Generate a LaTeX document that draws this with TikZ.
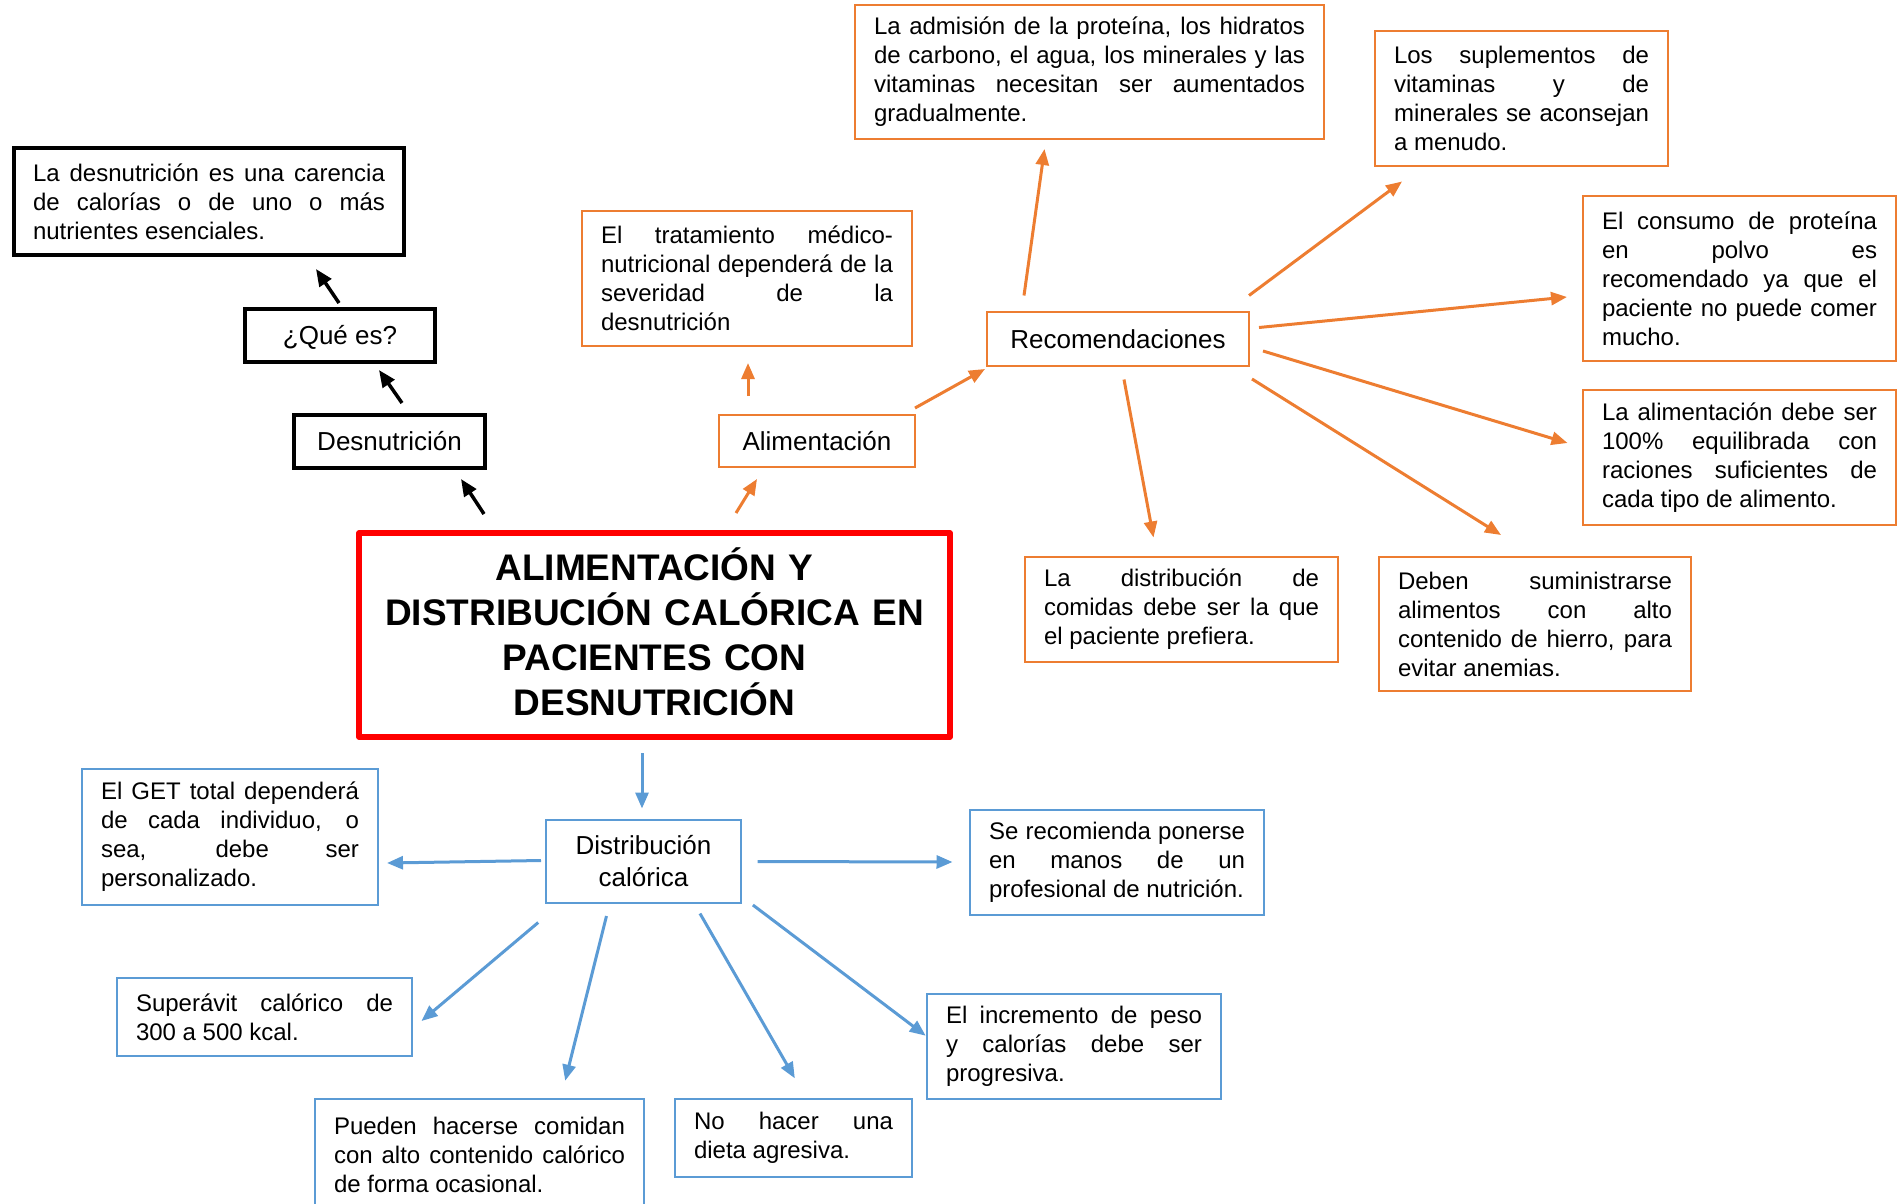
\documentclass[tikz,border=0pt]{standalone}
\usepackage{fontspec}
\setmainfont{Liberation Sans}
\usetikzlibrary{arrows.meta}
\definecolor{orng}{RGB}{237,125,49}
\definecolor{blu}{RGB}{91,155,213}
\definecolor{redb}{RGB}{255,0,0}
\tolerance=10000 \hbadness=10000 \hyphenpenalty=10000 \exhyphenpenalty=10000
\setlength{\parindent}{0pt}
\newcommand\lstrut{\rule[-6pt]{0pt}{30pt}}
\begin{document}
\begin{tikzpicture}[x=1pt,y=-1pt,
  txt/.style={draw, inner xsep=19pt, inner ysep=0pt, align=justify, text=black,
    font=\fontsize{24}{29}\selectfont},
  lbl/.style={draw, inner sep=0pt, align=center, text=black,
    font=\fontsize{26}{32}\selectfont},
  kbox/.style={draw=black, line width=4pt},
  obox/.style={draw=orng, line width=2.8pt},
  bbox/.style={draw=blu, line width=2.8pt},
  karr/.style={line width=3.5pt, black, -{Triangle[length=17pt,width=14pt]}},
  oarr/.style={line width=3pt, orng, -{Triangle[length=16pt,width=13pt]}},
  barr/.style={line width=3pt, blu, -{Triangle[length=16pt,width=13pt]}}
]
\useasboundingbox (0,0) rectangle (1898,1203);

% black branch
\node[txt, kbox, text width=352pt, minimum height=107pt] (qdef) at (209,201.5)
  {La desnutrición es una carencia\linebreak de calorías o de uno o más\linebreak nutrientes esenciales.};
\node[lbl, kbox, minimum width=190pt, minimum height=53pt] (que) at (340,335.5) {\lstrut¿Qué es?};
\node[lbl, kbox, minimum width=191pt, minimum height=53pt] (desn) at (389.5,441.5) {\lstrut Desnutrición};

% title
\node[draw=redb, line width=5.5pt, line join=round, minimum width=591pt, minimum height=204pt,
  inner sep=0pt, text width=570pt, align=center,
  font=\bfseries\fontsize{37}{45}\selectfont] (title) at (654.5,635)
  {ALIMENTACIÓN Y\\DISTRIBUCIÓN CALÓRICA EN\\PACIENTES CON\\DESNUTRICIÓN\rule[-7pt]{0pt}{7pt}};

% orange branch
\node[lbl, obox, minimum width=196pt, minimum height=52pt] (alim) at (817,441) {\lstrut Alimentación};
\node[txt, obox, text width=292pt, minimum height=135pt] (trat) at (747,278.5)
  {El tratamiento médico-\linebreak nutricional dependerá de la\linebreak severidad de la\linebreak desnutrición};
\node[txt, obox, text width=431pt, minimum height=134pt] (adm) at (1089.5,72)
  {La admisión de la proteína, los hidratos\linebreak de carbono, el agua, los minerales y las\linebreak vitaminas necesitan ser aumentados\linebreak gradualmente.};
\node[lbl, obox, minimum width=262pt, minimum height=54pt] (rec) at (1118,339) {\lstrut Recomendaciones};
\node[txt, obox, text width=255pt, minimum height=135pt] (supl) at (1521.5,98.5)
  {Los suplementos de\linebreak vitaminas y de\linebreak minerales se aconsejan\linebreak a menudo.};
\node[txt, obox, text width=275pt, minimum height=165pt] (cons) at (1739.5,278.5)
  {El consumo de proteína\linebreak en polvo es\linebreak recomendado ya que el\linebreak paciente no puede comer\linebreak mucho.};
\node[txt, obox, text width=275pt, minimum height=135pt] (ealim) at (1739.5,457.5)
  {La alimentación debe ser\linebreak 100\% equilibrada con\linebreak raciones suficientes de\linebreak cada tipo de alimento.};
\node[txt, obox, text width=274pt, minimum height=134pt] (deben) at (1535,624)
  {Deben suministrarse\linebreak alimentos con alto\linebreak contenido de hierro, para\linebreak evitar anemias.};
\node[txt, obox, text width=275pt, minimum height=105pt] (dcom) at (1181.5,609.5)
  {La distribución de\linebreak comidas debe ser la que\linebreak el paciente prefiera.};

% blue branch
\node[lbl, bbox, minimum width=195pt, minimum height=83pt] (dist) at (643.5,861.5)
  {\lstrut Distribución\\\lstrut calórica};
\node[txt, bbox, text width=258pt, minimum height=136pt] (get) at (230,837)
  {El GET total dependerá\linebreak de cada individuo, o\linebreak sea, debe ser\linebreak personalizado.};
\node[txt, bbox, text width=256pt, minimum height=105pt] (serec) at (1117,862.5)
  {Se recomienda ponerse\linebreak en manos de un\linebreak profesional de nutrición.};
\node[txt, bbox, text width=257pt, minimum height=78pt] (superav) at (264.5,1017)
  {Superávit calórico de\linebreak 300 a 500 kcal.};
\node[txt, bbox, text width=256pt, minimum height=105pt] (incr) at (1074,1046.5)
  {El incremento de peso\linebreak y calorías debe ser\linebreak progresiva.};
\node[txt, bbox, text width=291pt, minimum height=112pt] (pued) at (479.5,1155)
  {Pueden hacerse comidan\linebreak con alto contenido calórico\linebreak de forma ocasional.};
\node[txt, bbox, text width=199pt, minimum height=78pt] (nohac) at (793.5,1138)
  {No hacer una\linebreak dieta agresiva.};

% black arrows
\draw[karr] ([shift={(-170.5,-121)}]title.center) -- ([shift={(71.5,37.5)}]desn.center);
\draw[karr] ([shift={(12.5,-38.5)}]desn.center) -- ([shift={(39,34.5)}]que.center);
\draw[karr] ([shift={(-1,-32.5)}]que.center) -- ([shift={(107,67.5)}]qdef.center);

% orange arrows
\draw[oarr] ([shift={(81.5,-122)}]title.center) -- ([shift={(-60,38)}]alim.center);
\draw[oarr] ([shift={(-69,-45)}]alim.center) -- ([shift={(1,84.5)}]trat.center);
\draw[oarr] ([shift={(98,-33)}]alim.center) -- ([shift={(-133,30)}]rec.center);
\draw[oarr] ([shift={(-94,-43.5)}]rec.center) -- ([shift={(-45,77)}]adm.center);
\draw[oarr] ([shift={(131,-43.5)}]rec.center) -- ([shift={(-119.5,83)}]supl.center);
\draw[oarr] ([shift={(141,-11.5)}]rec.center) -- ([shift={(-172.5,18.5)}]cons.center);
\draw[oarr] ([shift={(145,12)}]rec.center) -- ([shift={(-172,-14.5)}]ealim.center);
\draw[oarr] ([shift={(134,40)}]rec.center) -- ([shift={(-34,-89)}]deben.center);
\draw[oarr] ([shift={(6,40.5)}]rec.center) -- ([shift={(-28,-72)}]dcom.center);

% blue arrows
\draw[barr] ([shift={(-12.5,118)}]title.center) -- ([shift={(-1.5,-53)}]dist.center);
\draw[barr] ([shift={(-102.5,-1)}]dist.center) -- ([shift={(157,26)}]get.center);
\draw[barr] ([shift={(114,0)}]dist.center) -- ([shift={(-164.5,-0.5)}]serec.center);
\draw[barr] ([shift={(-105.3,61)}]dist.center) -- ([shift={(157,4)}]superav.center);
\draw[barr] ([shift={(-37,54.5)}]dist.center) -- ([shift={(85.7,-74.3)}]pued.center);
\draw[barr] ([shift={(56.5,52)}]dist.center) -- ([shift={(1.3,-59.7)}]nohac.center);
\draw[barr] ([shift={(109.4,43.5)}]dist.center) -- ([shift={(-148.3,-10.8)}]incr.center);
\end{tikzpicture}
\end{document}
